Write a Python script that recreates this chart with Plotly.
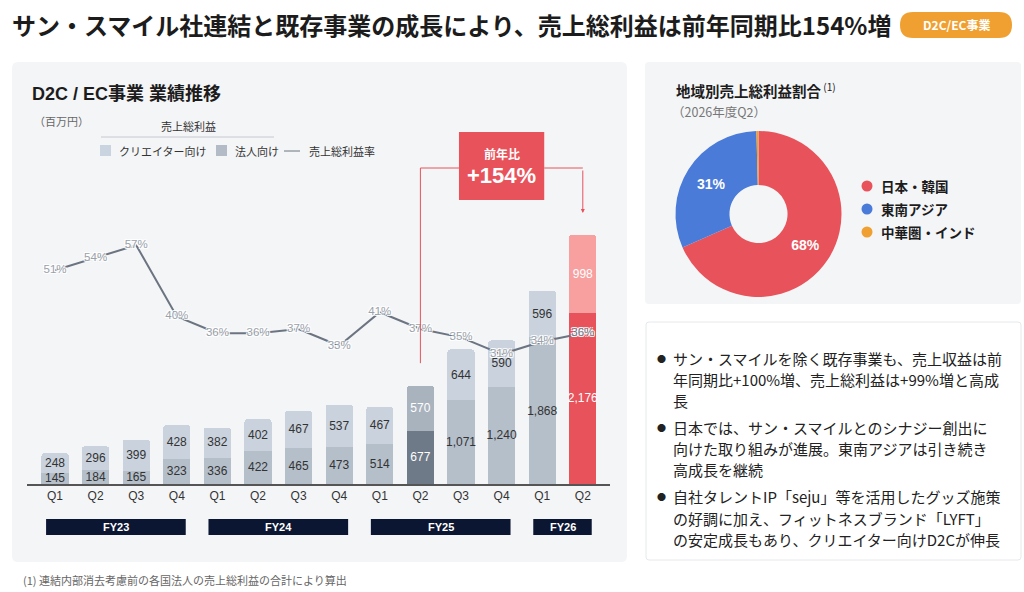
import plotly.graph_objects as go

W, H = 1024, 592

# ---- data ----
quarters = ['Q1', 'Q2', 'Q3', 'Q4', 'Q1', 'Q2', 'Q3', 'Q4', 'Q1', 'Q2', 'Q3', 'Q4', 'Q1', 'Q2']
fiscal_years = ['FY23', 'FY24', 'FY25', 'FY26']
fy_spans = [(0, 3), (4, 7), (8, 11), (12, 13)]
corporate = [145, 184, 165, 323, 336, 422, 465, 473, 514, 677, 1071, 1240, 1868, 2176]
creator = [248, 296, 399, 428, 382, 402, 467, 537, 467, 570, 644, 590, 596, 998]
margin_pct = [51, 54, 57, 40, 36, 36, 37, 33, 41, 37, 35, 31, 34, 36]
yoy_label = '+154%'

regions = ['日本・韓国', '東南アジア', '中華圏・インド']
region_share = [68.4, 31.2, 0.4]
region_colors = ['#e8525a', '#4a7bd8', '#f0a030']

bullets = [
    ['サン・スマイルを除く既存事業も、売上収益は前', '年同期比+100%増、売上総利益は+99%増と高成', '長'],
    ['日本では、サン・スマイルとのシナジー創出に', '向けた取り組みが進展。東南アジアは引き続き', '高成長を継続'],
    ['自社タレントIP「seju」等を活用したグッズ施策', 'の好調に加え、フィットネスブランド「LYFT」', 'の安定成長もあり、クリエイター向けD2Cが伸長'],
]

JP = 'Noto Sans CJK JP, Noto Sans, sans-serif'
NUM = 'Liberation Sans, Arial, Noto Sans CJK JP, sans-serif'


def px(x):
    return x / W


def py(y):
    return 1 - y / H


def rounded_rect(x0, y0, x1, y1, r):
    # pixel box -> svg path in paper coords with rounded corners
    rx, ry = r / W, r / H
    a, b, c, d = px(x0), py(y0), px(x1), py(y1)
    return (f'M {a + rx},{b} L {c - rx},{b} Q {c},{b} {c},{b - ry} '
            f'L {c},{d + ry} Q {c},{d} {c - rx},{d} L {a + rx},{d} '
            f'Q {a},{d} {a},{d + ry} L {a},{b - ry} Q {a},{b} {a + rx},{b} Z')


def label(x, y, text, size, color, family=JP, xanchor='left', xref='paper', yref='paper'):
    return dict(x=x, y=y, xref=xref, yref=yref, xanchor=xanchor, yanchor='middle', text=text,
                showarrow=False, font=dict(family=family, size=size, color=color))


# bar chart geometry (pixels)
plot_top, base_y = 130, 484
px_per_unit = 249 / 3174
px_per_pct = 4.19
y_max = (base_y - plot_top) / px_per_unit
y2_max = (base_y - plot_top) / px_per_pct
n = len(quarters)
xs = list(range(n))

hl_prev, hl_cur = 9, 13
bottom_colors = ['#b5bfca'] * n
top_colors = ['#c9d2dd'] * n
text_colors = ['#333333'] * n
bottom_colors[hl_prev], top_colors[hl_prev] = '#6e7a88', '#a9b3be'
bottom_colors[hl_cur], top_colors[hl_cur] = '#e8525a', '#f8a0a0'
text_colors[hl_prev] = text_colors[hl_cur] = '#ffffff'

fig = go.Figure()

fig.add_trace(go.Bar(
    x=xs, y=corporate, name='法人向け',
    marker=dict(color=bottom_colors, line=dict(width=0)),
    text=[f'{v:,}' for v in corporate], textposition='inside', insidetextanchor='middle', textangle=0,
    textfont=dict(family=NUM, size=12.5, color=text_colors), hoverinfo='skip'))
fig.add_trace(go.Bar(
    x=xs, y=creator, name='クリエイター向け',
    marker=dict(color=top_colors, line=dict(width=0)),
    text=[f'{v:,}' for v in creator], textposition='inside', insidetextanchor='middle', textangle=0,
    textfont=dict(family=NUM, size=12.5, color=text_colors), hoverinfo='skip'))

pct_colors = ['#9aa1aa'] * n
pct_colors[hl_cur] = '#6b7480'
fig.add_trace(go.Scatter(
    x=xs, y=margin_pct, yaxis='y2', mode='lines+text', name='売上総利益率',
    line=dict(color='#6b7480', width=2),
    text=[f'{v}%' for v in margin_pct], textposition='middle center',
    textfont=dict(family=NUM, size=11.5, color=pct_colors,
                  shadow='1px 1px 0 #fff, -1px -1px 0 #fff, 1px -1px 0 #fff, -1px 1px 0 #fff'),
    hoverinfo='skip', cliponaxis=False))

fig.add_trace(go.Pie(
    labels=regions, values=region_share, sort=False, direction='clockwise', rotation=0,
    hole=0.35, marker=dict(colors=region_colors, line=dict(width=0)),
    text=[f'{round(v)}%' if v > 5 else '' for v in region_share], textinfo='text',
    textposition='inside', insidetextorientation='horizontal',
    textfont=dict(family=NUM, size=14, color='white', weight='bold'),
    domain=dict(x=[px(675), px(842)], y=[py(297), py(131)]),
    showlegend=False, hoverinfo='skip'))

shapes = []
annotations = []

# cards
shapes.append(dict(type='path', path=rounded_rect(12, 62, 627, 562, 6), xref='paper', yref='paper',
                   fillcolor='#f4f5f7', line=dict(width=0), layer='below'))
shapes.append(dict(type='path', path=rounded_rect(645, 62, 1021, 304, 4), xref='paper', yref='paper',
                   fillcolor='#f4f5f7', line=dict(width=0), layer='below'))
shapes.append(dict(type='path', path=rounded_rect(646, 322, 1021, 560, 3), xref='paper', yref='paper',
                   fillcolor='#ffffff', line=dict(color='#e6e8ec', width=1), layer='below'))

# header
annotations.append(label(px(10), py(25), '<b>サン・スマイル社連結と既存事業の成長により、売上総利益は前年同期比154%増</b>',
                         24, '#1c1c1c'))
shapes.append(dict(type='path', path=rounded_rect(900, 12, 1012, 38, 13), xref='paper', yref='paper',
                   fillcolor='#f0a030', line=dict(width=0)))
annotations.append(label(px(956), py(25), '<b>D2C/EC事業</b>', 12, 'white', xanchor='center'))

# left card titles and legend
annotations.append(label(px(30), py(94), '<b>D2C / EC事業 業績推移</b>', 18, '#1c1c1c', family=NUM))
annotations.append(label(px(32), py(121), '（百万円）', 11, '#666'))
annotations.append(label(px(188), py(126), '売上総利益', 11, '#333', xanchor='center'))
shapes.append(dict(type='line', x0=px(101), x1=px(274), y0=py(137), y1=py(137), xref='paper', yref='paper',
                   line=dict(color='#c4c8cf', width=1)))
legend_items = [(100, '#c9d4e0', 'クリエイター向け'), (216, '#b3bcc6', '法人向け')]
for lx, col, name in legend_items:
    shapes.append(dict(type='rect', x0=px(lx), x1=px(lx + 11), y0=py(156), y1=py(145), xref='paper',
                       yref='paper', fillcolor=col, line=dict(width=0)))
    annotations.append(label(px(lx + 17), py(151), name, 11, '#333'))
shapes.append(dict(type='line', x0=px(284), x1=px(300), y0=py(151), y1=py(151), xref='paper', yref='paper',
                   line=dict(color='#6b7480', width=1)))
annotations.append(label(px(307), py(151), '売上総利益率', 11, '#333'))

# fiscal year bands
for fy, (a, b) in zip(fiscal_years, fy_spans):
    shapes.append(dict(type='rect', x0=a - 0.22, x1=b + 0.22, y0=py(535), y1=py(519), xref='x', yref='paper',
                       fillcolor='#0b1632', line=dict(width=0)))
    annotations.append(label((a + b) / 2, py(527), f'<b>{fy}</b>', 11, 'white', family=NUM,
                             xanchor='center', xref='x'))

# year-over-year callout
to_y = 1 / px_per_unit
tot_prev = corporate[hl_prev] + creator[hl_prev]
tot_cur = corporate[hl_cur] + creator[hl_cur]
box_c = 11
y_link = (base_y - 168) * to_y
shapes.append(dict(type='line', x0=hl_prev, x1=hl_prev, y0=tot_prev + 23 * to_y, y1=y_link,
                   xref='x', yref='y', line=dict(color='#e8525a', width=1)))
shapes.append(dict(type='line', x0=hl_prev, x1=box_c - 1.05, y0=y_link, y1=y_link,
                   xref='x', yref='y', line=dict(color='#e8525a', width=1)))
shapes.append(dict(type='line', x0=box_c + 1.05, x1=hl_cur, y0=y_link, y1=y_link,
                   xref='x', yref='y', line=dict(color='#e8525a', width=1)))
annotations.append(dict(x=hl_cur, y=tot_cur + 22 * to_y, xref='x', yref='y', ax=0, ay=-44, text='',
                        showarrow=True, arrowhead=2, arrowsize=0.8, arrowwidth=1, arrowcolor='#e8525a'))
shapes.append(dict(type='rect', x0=box_c - 1.05, x1=box_c + 1.05, y0=(base_y - 200) * to_y,
                   y1=(base_y - 132) * to_y, xref='x', yref='y', fillcolor='#e8525a', line=dict(width=0)))
annotations.append(label(box_c, (base_y - 153) * to_y, '<b>前年比</b>', 12, 'white',
                         xanchor='center', xref='x', yref='y'))
annotations.append(label(box_c, (base_y - 175) * to_y, f'<b>{yoy_label}</b>', 22, 'white', family=NUM,
                         xanchor='center', xref='x', yref='y'))

# donut titles and legend
annotations.append(label(px(674), py(90), '<b>地域別売上総利益割合</b><sup> (1)</sup>', 14.5, '#1c1c1c'))
annotations.append(label(px(670), py(111), '（2026年度Q2）', 12.5, '#777'))
for i, (name, col) in enumerate(zip(regions, region_colors)):
    yy = 186 + 23 * i
    shapes.append(dict(type='circle', xref='paper', yref='paper', xsizemode='pixel', ysizemode='pixel',
                       xanchor=px(867), yanchor=py(yy), x0=-5.5, x1=5.5, y0=-5.5, y1=5.5,
                       fillcolor=col, line=dict(width=0)))
    annotations.append(label(px(879), py(yy), f'<b>{name}</b>', 13.5, '#1c1c1c'))

# bullet text
for bi, lines in enumerate(bullets):
    y0 = 358 + bi * 69.5
    annotations.append(label(px(661), py(y0), '●', 9, '#222', xanchor='center'))
    for li, line in enumerate(lines):
        annotations.append(label(px(671), py(y0 + li * 21), line, 15, '#222'))

# footnote
annotations.append(label(px(21), py(580), '(1) 連結内部消去考慮前の各国法人の売上総利益の合計により算出', 11, '#666'))

fig.update_layout(
    width=W, height=H, margin=dict(l=0, r=0, t=0, b=0),
    paper_bgcolor='white', plot_bgcolor='rgba(0,0,0,0)',
    barmode='stack', bargap=0.33, barcornerradius=3, showlegend=False,
    uniformtext=dict(minsize=12, mode='show'),
    xaxis=dict(domain=[px(27), px(610)], range=[-0.69, 13.67], tickvals=xs, ticktext=quarters,
               showgrid=False, zeroline=False, showline=True, linecolor='#555', linewidth=1.5,
               ticks='', tickfont=dict(family=NUM, size=12, color='#333'), fixedrange=True),
    yaxis=dict(domain=[py(base_y), py(plot_top)], range=[0, y_max], visible=False, fixedrange=True),
    yaxis2=dict(domain=[py(base_y), py(plot_top)], range=[0, y2_max], overlaying='y', visible=False,
                fixedrange=True),
    shapes=shapes, annotations=annotations,
)

fig.write_html('out.html', config={'displayModeBar': False},
               post_script="document.body.style.margin='0';")
